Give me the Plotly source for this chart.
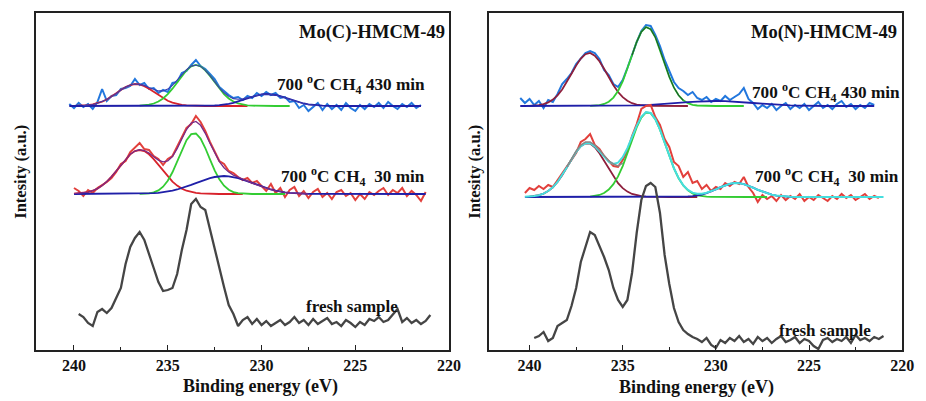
import numpy as np
import plotly.graph_objects as go

STEP = 0.25

# ---------------- LEFT PANEL: Mo(C)-HMCM-49 ----------------
# 700 C CH4 430 min (offset baseline, a.u.)
L430_BASE = 244
L430_START = 240.25
L430_SPEC = [2, -2, 3, -1, 2, -3, 4, 17, 5, 10, 11, 17, 18, 20, 27, 21, 23, 17, 18, 13,
             16, 14, 23, 24, 33, 35, 41, 46, 40, 37, 32, 27, 19, 15, 11, 8, 9, 6, 10, 8,
             13, 10, 14, 11, 13, 8, 9, 4, 5, -2, 1, -5, -1, 3, -4, 2, -3, 1, -4, 3,
             -2, -5, 1, -3, 2, -1, 3, -2, 4, 0, -3, 2, -1, 3, -2, 1]
L430_RED_START = 240.0
L430_RED = [0.1, 0.2, 0.4, 0.9, 1.6, 2.7, 4.3, 6.6, 9.4, 12.7, 16.0, 19.0, 21.0, 22.0, 21.6,
            19.9, 17.2, 14.0, 10.7, 7.7, 5.2, 3.3, 2.0, 1.1, 0.6, 0.3, 0.1,
            0, 0, 0, 0, 0, 0, 0, 0, 0, 0, 0]
L430_GREEN_START = 236.5
L430_GREEN = [0.3, 0.7, 1.3, 2.5, 4.5, 7.5, 11.8, 17.3, 23.6, 30.1, 35.7, 39.6, 41.0, 39.6,
              35.7, 30.1, 23.6, 17.3, 11.8, 7.5, 4.5, 2.5, 1.3, 0.7, 0.3, 0.1,
              0, 0, 0, 0, 0, 0, 0]
L430_BLUE_START = 233.5
L430_BLUE = [0.0, 0.1, 0.1, 0.3, 0.5, 0.8, 1.3, 2.1, 3.1, 4.4, 6.0, 7.6, 9.2, 10.6, 11.6,
             12.0, 11.8, 11.0, 9.8, 8.3, 6.6, 5.0, 3.6, 2.5, 1.6, 1.0, 0.6, 0.3, 0.2, 0.1, 0.0]
L430_ENV_START = 239.5
L430_ENV = [0.4, 0.9, 1.5, 2.7, 4.3, 6.6, 9.4, 12.7, 16.0, 19.0, 21.0, 22.0, 21.6, 20.6,
            18.5, 16.5, 15.1, 15.1, 16.9, 20.6, 25.6, 31.3, 36.3, 39.9, 41.0, 39.6, 35.7,
            30.4, 24.1, 18.1, 13.2, 9.6, 7.4, 6.7, 7.1, 8.2, 9.5, 10.8, 11.6, 12.0, 11.8,
            11.0, 9.8, 8.3, 6.5, 4.8, 3.3, 2.2, 1.4, 0.9, 0.5]

# 700 C CH4 30 min
L30_BASE = 156
L30_START = 240.0
L30_SPEC = [6, 3, -2, 4, 1, 6, 9, 12, 16, 22, 30, 33, 42, 47, 51, 45, 44, 38, 35, 29,
            35, 38, 47, 57, 66, 70, 78, 72, 63, 52, 43, 33, 30, 23, 21, 17, 14, 16, 11, 13,
            8, 3, 10, 1, 6, -3, 4, 7, -2, 3, -4, 2, 5, -3, 1, -5, 2, 4, -2, 1,
            -6, 0, -5, 2, -1, 3, 6, -1, 4, 1, 6, -2, 3, -1, -7, 2]
L30_RED_START = 240.0
L30_RED = [0.3, 0.6, 1.1, 1.9, 3.3, 5.4, 8.4, 12.4, 17.4, 23.1, 29.1, 34.9, 39.7, 42.9, 44.0,
           42.9, 39.7, 34.9, 29.1, 23.1, 17.4, 12.4, 8.4, 5.4, 3.3, 1.9, 1.1, 0.6, 0.3, 0.1,
           0, 0, 0, 0, 0, 0, 0]
L30_GREEN_START = 236.5
L30_GREEN = [0.1, 0.3, 0.7, 1.6, 3.6, 7.3, 13.2, 21.7, 32.4, 43.9, 53.8, 59.9, 60.5, 55.4,
             46.0, 34.7, 23.7, 14.7, 8.3, 4.2, 1.9, 0.8, 0.3, 0.1, 0, 0, 0, 0, 0, 0, 0, 0]
L30_BLUE_START = 236.5
L30_BLUE = [0.2, 0.3, 0.5, 0.8, 1.2, 1.7, 2.4, 3.4, 4.5, 5.8, 7.4, 9.1, 10.9, 12.7, 14.4,
            15.9, 17.0, 17.7, 18.0, 17.7, 17.0, 15.9, 14.4, 12.7, 10.9, 9.1, 7.4, 5.8, 4.5,
            3.4, 2.4, 1.7, 1.2, 0.8, 0.5, 0.3, 0.2]
L30_ENV_START = 240.0
L30_ENV = [0.3, 0.6, 1.1, 1.9, 3.3, 5.4, 8.4, 12.4, 17.4, 23.1, 29.1, 34.9, 39.8, 43.0, 44.3,
           43.5, 40.9, 37.3, 33.9, 32.1, 33.0, 37.5, 45.3, 55.1, 64.5, 70.9, 72.5, 68.7, 60.7,
           50.7, 40.7, 32.4, 26.3, 21.9, 18.9, 16.7, 14.7, 12.8, 10.9, 9.1, 7.4, 5.8, 4.5,
           3.4, 2.4, 1.7, 1.2, 0.8, 0.5, 0.3, 0.2]

# fresh sample
LF_START = 239.75
LF_SPEC = [36, 33, 27, 24, 38, 41, 37, 42, 52, 62, 86, 103, 112, 118, 110, 95, 82, 68, 59, 60,
           62, 76, 100, 120, 146, 151, 143, 140, 120, 100, 81, 63, 45, 36, 24, 30, 33, 26, 31, 25,
           29, 24, 27, 30, 25, 28, 33, 27, 30, 25, 31, 26, 29, 32, 26, 28, 24, 30, 27, 23,
           28, 25, 31, 29, 33, 28, 30, 36, 41, 28, 32, 27, 30, 26, 29, 35]

# ---------------- RIGHT PANEL: Mo(N)-HMCM-49 ----------------
R430_BASE = 244
R430_START = 240.5
R430_SPEC = [8, 3, 7, 1, 5, -2, 6, 4, 12, 22, 27, 33, 42, 47, 53, 55, 53, 47, 36, 31,
             22, 19, 26, 38, 52, 64, 75, 81, 80, 71, 60, 46, 35, 24, 18, 15, 11, 14, 8, 6,
             9, 4, 7, 5, 10, 6, 9, 12, 18, 7, 3, -3, 1, -2, 2, -4, 0, 3, -3, 1,
             -2, 2, -4, 0, 4, -2, 1, -3, 2, 5, -1, 2, -3, 1, -2, 3, 1]
R430_RED_START = 240.0
R430_RED = [0.2, 0.4, 0.9, 1.9, 3.6, 6.4, 10.7, 16.5, 23.9, 32.2, 40.4, 47.4, 51.8, 53.0, 50.4,
            44.8, 37.2, 28.8, 20.8, 14.0, 8.8, 5.2, 2.8, 1.4, 0.7, 0.3, 0.1,
            0, 0, 0, 0, 0, 0, 0, 0]
R430_GREEN_START = 236.75
R430_GREEN = [0.1, 0.3, 0.9, 2.0, 4.3, 8.4, 15.0, 24.5, 36.8, 50.7, 64.1, 74.2, 78.9, 76.8,
              68.7, 56.3, 42.3, 29.2, 18.4, 10.7, 5.7, 2.8, 1.2, 0.5, 0.2, 0.1,
              0, 0, 0, 0, 0, 0, 0, 0]
R430_BLUE_START = 236.0
R430_BLUE_STEP = 0.5
R430_BLUE = [0.0, 0.1, 0.2, 0.4, 0.7, 1.1, 1.6, 2.3, 3.0, 3.8, 4.4, 4.85, 5.0, 4.85, 4.4,
             3.8, 3.0, 2.3, 1.6, 1.1, 0.7, 0.4, 0.2, 0.1, 0.0]
# dark overlay on the right flank / top of the green component
R430_GDARK_START = 234.5
R430_GDARK = [50.7, 64.1, 74.2, 78.9, 76.8, 68.7, 56.3, 42.3, 29.2, 18.4, 10.7, 5.7]

R30_BASE = 153
R30_START = 240.25
R30_SPEC = [4, 9, 7, 11, 8, 12, 10, 17, 24, 30, 38, 44, 55, 58, 63, 52, 48, 41, 36, 31,
            30, 37, 46, 61, 73, 88, 91, 92, 80, 72, 58, 50, 35, 31, 20, 25, 14, 16, 8, 12,
            6, 10, 8, 14, 11, 15, 13, 20, 10, 4, -5, 2, -2, 1, -4, 2, -3, 1, -2, 3,
            -4, 0, -3, 2, -1, -4, 1, -2, 3, -1, 2, -3, 0, 3, -2, 1, -1]
R30_RED_START = 240.0
R30_RED = [0.4, 0.9, 1.8, 3.4, 6.0, 9.7, 15.0, 21.7, 29.5, 37.6, 45.1, 50.8, 53.7, 53.4, 49.8,
           43.7, 36.0, 27.9, 20.3, 13.8, 8.9, 5.4, 3.0, 1.6, 0.8, 0.4, 0.2, 0.1,
           0, 0, 0, 0, 0, 0, 0, 0, 0]
R30_GREEN_START = 236.75
R30_GREEN = [0.4, 0.9, 2.0, 4.0, 7.4, 12.8, 20.6, 30.9, 43.5, 57.0, 69.6, 79.4, 84.5, 83.9,
             77.8, 67.3, 54.3, 40.8, 28.7, 18.8, 11.5, 6.6, 3.5, 1.7, 0.8, 0.3, 0.1,
             0, 0, 0, 0, 0, 0, 0, 0, 0, 0, 0, 0]
R30_BLUE_START = 232.0
R30_BLUE = [0.1, 0.2, 0.5, 0.9, 1.5, 2.5, 3.9, 5.6, 7.6, 9.8, 11.7, 13.2, 13.9, 13.8, 12.9,
            11.3, 9.3, 7.2, 5.3, 3.6, 2.3, 1.4, 0.8, 0.4, 0.2, 0.1]
R30_ENV_START = 240.25
R30_ENV = [0.2, 0.4, 0.9, 1.8, 3.4, 6.0, 9.7, 15.0, 21.7, 29.5, 37.6, 45.1, 50.8, 53.7, 53.8,
           50.7, 45.7, 40.0, 35.3, 33.1, 34.4, 39.8, 48.9, 60.0, 71.2, 80.2, 84.9, 84.1, 77.9,
           67.3, 54.3, 40.8, 28.7, 18.9, 11.7, 7.1, 4.4, 3.2, 3.3, 4.2, 5.7, 7.6, 9.8, 11.7,
           13.2, 13.9, 13.8, 12.9, 11.3, 9.3, 7.2, 5.3, 3.6, 2.3, 1.4, 0.8, 0.4, 0.2, 0.1,
           0, 0, 0, 0, 0, 0, 0, 0, 0, 0, 0, 0, 0, 0, 0, 0, 0, 0, 0]
R30_GRAY_START = 238.0
R30_GRAY = [30, 38, 46, 52, 55, 55, 52, 47, 41, 36, 33, 31, 34]

RF_START = 239.75
RF_SPEC = [12, 14, 18, 9, 12, 24, 27, 30, 44, 62, 88, 103, 118, 115, 104, 93, 80, 62, 50, 43,
           50, 77, 117, 150, 164, 167, 163, 137, 95, 66, 42, 28, 20, 16, 13, 11, 8, 12, 5, 2,
           10, 7, 12, 9, 14, 8, 11, 6, 13, 9, 12, 7, 11, 14, 8, 10, 13, 7, 11, 9,
           4, 1, 10, 12, 8, 11, 9, 13, 7, 15, 10, 12, 9, 13, 11, 14]

TITLES = ["Mo(C)-HMCM-49", "Mo(N)-HMCM-49"]
LAB430 = "700 <sup>o</sup>C CH<sub>4</sub> 430 min"
LAB30 = "700 <sup>o</sup>C CH<sub>4</sub>  30 min"
LABF = "fresh sample"
XTICKS = [240, 235, 230, 225, 220]

# ---------------- styles ----------------
C_BLUE_SPEC = "#2277dd"
C_RED_SPEC = "#e2403c"
C_RED_FIT = "#d8232c"
C_RED_FIT_R = "#8e1f3c"
C_GREEN = "#33cc33"
C_NAVY = "#1f1fa8"
C_GRAY = "#454545"
C_CYAN = "#45dede"
FONT = "Liberation Serif"

W, H = 926, 401


def grid(start, n, step=STEP):
    return np.round(start - step * np.arange(n), 3)


fig = go.Figure()


def add(xa, ya, x, y, color, width):
    fig.add_trace(go.Scatter(x=list(x), y=list(y), mode="lines", xaxis=xa, yaxis=ya,
                             line=dict(color=color, width=width), hoverinfo="skip",
                             showlegend=False))


def block(xa, ya, base, s_start, spec, spec_color, fits, blue_start, blue, blue_step=STEP):
    sx = grid(s_start, len(spec))
    add(xa, ya, sx, np.array(spec) + base, spec_color, 2)
    for start, vals, col in fits:
        add(xa, ya, grid(start, len(vals)), np.array(vals) + base, col, 1.8)
    bx = grid(blue_start, len(blue), blue_step)
    fx = np.concatenate([[sx[0]], bx, [sx[-1]]])
    fy = np.concatenate([[0], blue, [0]]) + base
    add(xa, ya, fx, fy, C_NAVY, 1.8)
    return sx


# left panel
block("x", "y", L430_BASE, L430_START, L430_SPEC, C_BLUE_SPEC,
      [(L430_RED_START, L430_RED, C_RED_FIT), (L430_GREEN_START, L430_GREEN, C_GREEN)],
      L430_BLUE_START, L430_BLUE)
add("x", "y", grid(L430_ENV_START, len(L430_ENV)), np.array(L430_ENV) + L430_BASE, "#3b3bb0", 1.1)
block("x", "y", L30_BASE, L30_START, L30_SPEC, C_RED_SPEC,
      [(L30_RED_START, L30_RED, C_RED_FIT), (L30_GREEN_START, L30_GREEN, C_GREEN)],
      L30_BLUE_START, L30_BLUE)
add("x", "y", grid(L30_ENV_START, len(L30_ENV)), np.array(L30_ENV) + L30_BASE, "#7a2a86", 1.3)
add("x", "y", grid(LF_START, len(LF_SPEC)), LF_SPEC, C_GRAY, 2.3)

# right panel
block("x2", "y2", R430_BASE, R430_START, R430_SPEC, C_BLUE_SPEC,
      [(R430_RED_START, R430_RED, C_RED_FIT_R), (R430_GREEN_START, R430_GREEN, C_GREEN)],
      R430_BLUE_START, R430_BLUE, R430_BLUE_STEP)
add("x2", "y2", grid(R430_GDARK_START, len(R430_GDARK)), np.array(R430_GDARK) + R430_BASE,
    "#1e5a2e", 1.1)
block("x2", "y2", R30_BASE, R30_START, R30_SPEC, C_RED_SPEC,
      [(R30_RED_START, R30_RED, C_RED_FIT_R), (R30_GREEN_START, R30_GREEN, C_GREEN)],
      R30_BLUE_START, R30_BLUE)
add("x2", "y2", grid(R30_ENV_START, len(R30_ENV)), np.array(R30_ENV) + R30_BASE, C_CYAN, 2)
add("x2", "y2", grid(R30_GRAY_START, len(R30_GRAY)), np.array(R30_GRAY) + R30_BASE, "#888888", 1.5)
add("x2", "y2", grid(RF_START, len(RF_SPEC)), RF_SPEC, C_GRAY, 2.3)


def px(x):
    return x / W


def py(y):
    return 1 - y / H


def xaxis(dom, rng):
    return dict(domain=dom, range=rng, showline=True, mirror=True, linecolor="#222",
                linewidth=1.6, ticks="inside", ticklen=5, tickwidth=1.3, tickcolor="#222",
                tickvals=XTICKS, ticktext=[f"<b>{t}</b>" for t in XTICKS],
                tickfont=dict(family=FONT, size=16, color="#111"),
                minor=dict(ticks="inside", dtick=2.5, tick0=220, ticklen=3, tickwidth=1.2,
                           tickcolor="#222"),
                showgrid=False, zeroline=False, fixedrange=True)


def yaxis(anchor, dom):
    return dict(domain=dom, range=[0, 337], showline=True, mirror=True, linecolor="#222",
                linewidth=1.6, ticks="", showticklabels=False, showgrid=False,
                zeroline=False, anchor=anchor, fixedrange=True)


ydom = [py(350), py(13)]
fig.update_layout(
    width=W, height=H, margin=dict(l=0, r=0, t=0, b=0),
    paper_bgcolor="white", plot_bgcolor="white",
    font=dict(family=FONT, color="#111"),
    xaxis=xaxis([px(36), px(455)], [242.05, 220]),
    yaxis=yaxis("x", ydom),
    xaxis2=dict(xaxis([px(495), px(914)], [242.2, 220]), anchor="y2"),
    yaxis2=yaxis("x2", ydom),
)


def ann(text, x, y, size, xanchor="center", angle=0):
    fig.add_annotation(text=f"<b>{text}</b>", x=px(x), y=py(y), xref="paper", yref="paper",
                       showarrow=False, xanchor=xanchor, yanchor="middle", textangle=angle,
                       borderpad=0, font=dict(family=FONT, size=size, color="#111"))


ann(TITLES[0], 302, 33, 18.5, "left")
ann(TITLES[1], 760, 33, 18.5, "left")
ann(LAB430, 280, 84, 17.2, "left")
ann(LAB30, 284, 176, 17.2, "left")
ann(LABF, 309, 306, 17, "left")
ann(LAB430, 761, 92, 17.2, "left")
ann(LAB30, 764, 176, 17.2, "left")
ann(LABF, 788, 330, 17, "left")
ann("Binding energy (eV)", 264, 386, 18)
ann("Binding energy (eV)", 706, 387, 18)
ann("Intesity (a.u.)", 21, 172, 16.5, angle=-90)
ann("Intesity (a.u.)", 481, 172, 16.5, angle=-90)

fig.write_html("out.html")
